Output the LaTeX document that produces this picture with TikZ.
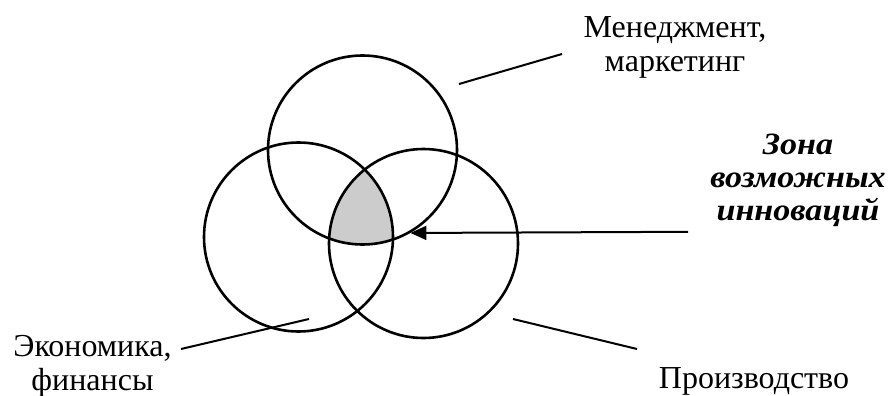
\documentclass[tikz,border=0pt]{standalone}
\usepackage{fontspec}
\setmainfont{Liberation Serif}
\newfontfamily\zonefont[FakeStretch=1.1]{Liberation Serif}
\usetikzlibrary{arrows.meta}

\begin{document}
\begin{tikzpicture}[
  x=1pt, y=-1pt,
  ring/.style={circle, draw, line width=2.6pt, minimum size=189pt, inner sep=0pt},
  label/.style={font=\fontsize{32}{34}\selectfont, align=center, anchor=base, inner sep=0pt},
  zonelabel/.style={font=\fontsize{31}{33}\zonefont\bfseries\itshape, align=center, anchor=base, inner sep=0pt},
  leader/.style={line width=2pt},
  zone/.style={fill=gray!40},
  >={Triangle[length=16pt,width=14pt]}
]
\useasboundingbox (0,0) rectangle (889,396);

% Centres
\coordinate (ctop) at (362.5,150);
\coordinate (cleft) at (298.5,237);
\coordinate (cright) at (423.5,243.5);

% Common area
\begin{scope}
  \clip (ctop) circle (94.5);
  \clip (cleft) circle (94.5);
  \fill[zone] (cright) circle (94.5);
\end{scope}

% Nodes (base = last line)
\node[ring] (top) at (ctop) {};
\node[ring] (left) at (cleft) {};
\node[ring] (right) at (cright) {};

\node[label] (mgmt) at (675,71) {Менеджмент,\\маркетинг};
\node[zonelabel] (zonetext) at (798,220) {Зона\\возможных\\инноваций};
\node[label] (econ) at (92.5,390) {Экономика,\\финансы};
\node[label] (prod) at (754,388) {Производство};

\coordinate (mgmtA) at (459,84);
\coordinate (mgmtB) at (562,54);
\coordinate (econA) at (309,319);
\coordinate (econB) at (181,349);
\coordinate (prodA) at (513,319);
\coordinate (prodB) at (637,349);
\coordinate (arrowfrom) at (688,231.8);

% Edges
\draw[leader] (mgmtA) -- (mgmtB);
\draw[leader] (econA) -- (econB);
\draw[leader] (prodA) -- (prodB);
\draw[leader, ->] (arrowfrom) -- (top.-60);

\end{tikzpicture}
\end{document}
